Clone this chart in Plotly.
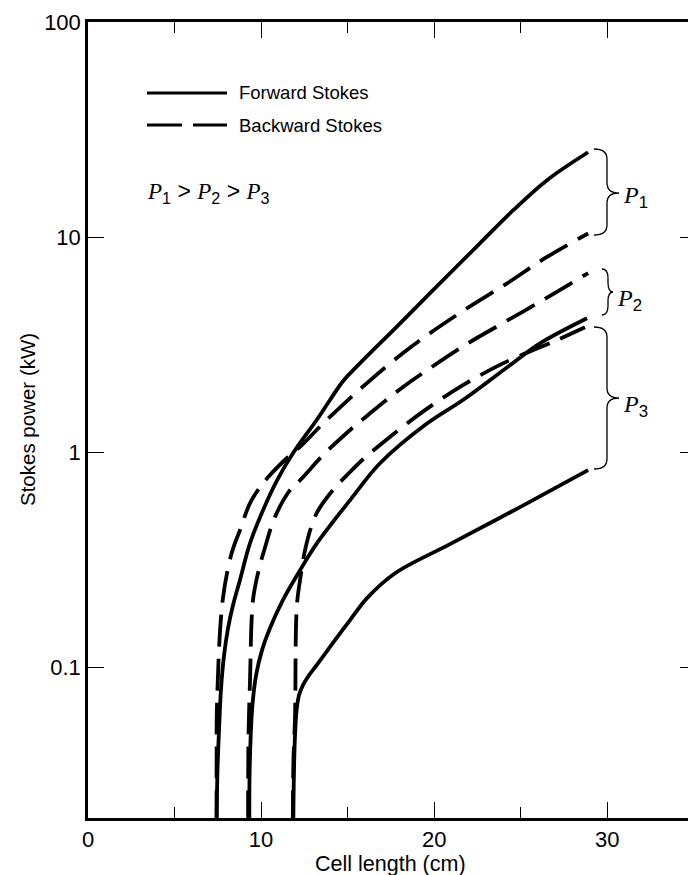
import plotly.graph_objects as go

# ---------------- data ----------------
p1_fwd_x = [7.43, 7.48, 7.57, 7.68, 7.86, 8.09, 8.38, 8.78, 9.36, 10.11, 10.92, 11.84, 13.23, 13.98, 14.73, 15.89, 17.83, 19.76, 22.24, 24.55, 26.52, 28.89]
p1_fwd_y = [0.019, 0.0333, 0.0511, 0.0785, 0.114, 0.152, 0.195, 0.255, 0.378, 0.538, 0.741, 0.99, 1.42, 1.75, 2.14, 2.68, 3.83, 5.49, 8.69, 13.3, 18.4, 24.8]

p1_bwd_x = [7.43, 7.43, 7.46, 7.78, 8.30, 8.78, 9.36, 9.94, 10.40, 11.67, 12.25, 13.58, 16.18, 18.20, 19.76, 21.90, 24.21, 26.40, 28.89]
p1_bwd_y = [0.019, 0.037, 0.0705, 0.205, 0.34, 0.435, 0.58, 0.689, 0.766, 0.97, 1.06, 1.36, 2.12, 2.89, 3.58, 4.67, 6.10, 7.98, 10.4]

p2_fwd_x = [9.32, 9.33, 9.39, 9.50, 9.71, 10.05, 10.51, 11.25, 12.25, 13.23, 15.14, 16.87, 19.58, 21.66, 24.38, 26.11, 28.83]
p2_fwd_y = [0.019, 0.0299, 0.046, 0.0668, 0.092, 0.120, 0.152, 0.205, 0.283, 0.378, 0.599, 0.889, 1.36, 1.75, 2.54, 3.21, 4.2]

p2_bwd_x = [9.25, 9.27, 9.36, 9.53, 9.82, 10.23, 10.80, 11.67, 12.25, 13.58, 14.85, 16.18, 18.20, 19.76, 21.95, 24.26, 26.57, 28.89]
p2_bwd_y = [0.019, 0.046, 0.087, 0.205, 0.274, 0.362, 0.50, 0.667, 0.741, 0.97, 1.21, 1.49, 2.01, 2.46, 3.21, 4.11, 5.26, 6.8]

p3_fwd_x = [11.86, 11.90, 11.96, 12.05, 12.19, 12.42, 12.77, 13.21, 14.15, 15.14, 16.12, 17.74, 20.91, 24.96, 28.89]
p3_fwd_y = [0.019, 0.0333, 0.0484, 0.0634, 0.0743, 0.0828, 0.092, 0.1025, 0.130, 0.166, 0.210, 0.274, 0.374, 0.556, 0.826]

p3_bwd_x = [11.83, 11.87, 11.96, 12.06, 12.25, 12.63, 13.21, 14.15, 14.96, 15.83, 17.33, 19.47, 21.66, 23.97, 27.09, 28.71]
p3_bwd_y = [0.019, 0.037, 0.0588, 0.19, 0.255, 0.378, 0.521, 0.667, 0.783, 0.918, 1.16, 1.57, 2.05, 2.59, 3.32, 3.81]

x_major = [0, 10, 20, 30]
x_minor = [5, 15, 25]
y_ticks = [0.1, 1, 10, 100]
y_ticktext = ["0.1", "1", "10", "100"]
legend_labels = ["Forward Stokes", "Backward Stokes"]
x_title = "Cell length (cm)"
y_title = "Stokes power (kW)"

# ---------------- layout geometry ----------------
W, H = 688, 875
ML, MT, MB = 88, 22, 57
PW = W - ML
PH = H - MT - MB
X_UNITS = PW / 17.31
Y_RANGE = [-1.70, 2.0]
SANS = "Liberation Sans, Arial, Helvetica, sans-serif"
SERIF = "Liberation Serif, Times New Roman, serif"
FS = 21.5
FS_Y = 20.5
FS_TICK = 22
FS_LEG = 18.5


def px(X):
    return (X - ML) / PW


def py(Y):
    return (H - MB - Y) / PH


fig = go.Figure()

DASH = "32px,12px"
curves = [
    (p1_fwd_x, p1_fwd_y, "solid"),
    (p1_bwd_x, p1_bwd_y, DASH),
    (p2_fwd_x, p2_fwd_y, "solid"),
    (p2_bwd_x, p2_bwd_y, DASH),
    (p3_fwd_x, p3_fwd_y, "solid"),
    (p3_bwd_x, p3_bwd_y, DASH),
]
for xs, ys, dash in curves:
    fig.add_trace(go.Scatter(
        x=xs, y=ys, mode="lines",
        line=dict(color="black", width=3.8, dash=dash, shape="spline", smoothing=1.0),
        showlegend=False, hoverinfo="skip",
    ))

# empty trace to register the secondary (tick-only) axes
fig.add_trace(go.Scatter(x=[], y=[], xaxis="x2", yaxis="y2", showlegend=False, hoverinfo="skip"))

shapes = []
# legend samples
shapes.append(dict(type="line", xref="paper", yref="paper", x0=px(147), x1=px(227), y0=py(93), y1=py(93),
                   line=dict(color="black", width=3)))
shapes.append(dict(type="line", xref="paper", yref="paper", x0=px(147), x1=px(227), y0=py(125), y1=py(125),
                   line=dict(color="black", width=3, dash="35px,11px")))


def brace(xl, xm, xt, yt, yb, ym):
    r = min(10, (ym - yt) / 2.5, (yb - ym) / 2.5)
    pts = [
        ("M", [(xl, yt)]),
        ("Q", [(xm, yt), (xm, yt + r)]),
        ("L", [(xm, ym - r)]),
        ("Q", [(xm, ym), (xt, ym)]),
        ("Q", [(xm, ym), (xm, ym + r)]),
        ("L", [(xm, yb - r)]),
        ("Q", [(xm, yb), (xl, yb)]),
    ]
    s = ""
    for cmd, ps in pts:
        s += cmd + " " + " ".join(f"{px(a):.5f},{py(b):.5f}" for a, b in ps) + " "
    return dict(type="path", xref="paper", yref="paper", path=s.strip(),
                line=dict(color="black", width=1.3))


shapes.append(brace(594, 607, 619, 149, 235, 193))
shapes.append(brace(602, 608, 613, 269, 315, 292))
shapes.append(brace(594, 607, 619, 327, 469, 398))

SANS1 = SANS.split(',')[0]
sub = lambda d: f"<sub><span style='font-family:{SANS1}'>{d}</span></sub>"
gt = f"<span style='font-family:{SANS1}'> &gt; </span>"
Pn = lambda d: f"<i>P</i>{sub(d)}"

annotations = [
    dict(text=legend_labels[0], x=px(237), y=py(93), xanchor="left", yanchor="middle",
         font=dict(family=SANS, size=FS_LEG, color="black")),
    dict(text=legend_labels[1], x=px(237), y=py(125), xanchor="left", yanchor="middle",
         font=dict(family=SANS, size=FS_LEG, color="black")),
    dict(text=Pn(1) + gt + Pn(2) + gt + Pn(3), x=px(145), y=py(193), xanchor="left", yanchor="middle",
         font=dict(family=SERIF, size=23, color="black")),
    dict(text=Pn(1), x=px(621), y=py(197), xanchor="left", yanchor="middle",
         font=dict(family=SERIF, size=24, color="black")),
    dict(text=Pn(2), x=px(615), y=py(300), xanchor="left", yanchor="middle",
         font=dict(family=SERIF, size=24, color="black")),
    dict(text=Pn(3), x=px(621), y=py(406), xanchor="left", yanchor="middle",
         font=dict(family=SERIF, size=24, color="black")),
    dict(text=x_title, x=px(390), y=py(864), xanchor="center", yanchor="middle",
         font=dict(family=SANS, size=FS, color="black")),
    dict(text=y_title, x=px(27), y=py(420), xanchor="center", yanchor="middle", textangle=-90,
         font=dict(family=SANS, size=FS_Y, color="black")),
]
for a in annotations:
    a.update(xref="paper", yref="paper", showarrow=False)

fig.update_layout(
    width=W, height=H,
    margin=dict(l=ML, r=0, t=MT, b=MB, pad=0),
    paper_bgcolor="white", plot_bgcolor="white",
    shapes=shapes, annotations=annotations,
    showlegend=False,
    xaxis=dict(
        range=[0, X_UNITS], showgrid=False, zeroline=False,
        showline=True, linecolor="black", linewidth=2.5, mirror=True,
        ticks="inside", ticklen=16, tickwidth=1.2, tickcolor="black",
        tickmode="array", tickvals=x_major, ticktext=[str(v) for v in x_major],
        minor=dict(ticks="inside", ticklen=11, tickwidth=1.2, tickcolor="black",
                   tickmode="array", tickvals=x_minor, showgrid=False),
        tickfont=dict(family=SANS, size=FS_TICK, color="black"),
    ),
    yaxis=dict(
        type="log", range=Y_RANGE, showgrid=False, zeroline=False,
        showline=True, linecolor="black", linewidth=2.5, mirror=False,
        ticks="inside", ticklen=16, tickwidth=1.2, tickcolor="black",
        tickmode="array", tickvals=y_ticks, ticktext=y_ticktext,
        tickfont=dict(family=SANS, size=FS_TICK, color="black"),
    ),
    xaxis2=dict(
        overlaying="x", side="top", anchor="y", range=[0, X_UNITS],
        showgrid=False, zeroline=False, showline=False, showticklabels=False,
        ticks="inside", ticklen=16, tickwidth=1.2, tickcolor="black",
        tickmode="array", tickvals=x_major[1:],
        minor=dict(ticks="inside", ticklen=11, tickwidth=1.2, tickcolor="black",
                   tickmode="array", tickvals=x_minor, showgrid=False),
    ),
    yaxis2=dict(
        overlaying="y", side="right", anchor="x", type="log", range=Y_RANGE,
        showgrid=False, zeroline=False, showline=False, showticklabels=False,
        ticks="inside", ticklen=8, tickwidth=1.2, tickcolor="black",
        tickmode="array", tickvals=y_ticks[:3],
    ),
)

fig.write_html("out.html")
